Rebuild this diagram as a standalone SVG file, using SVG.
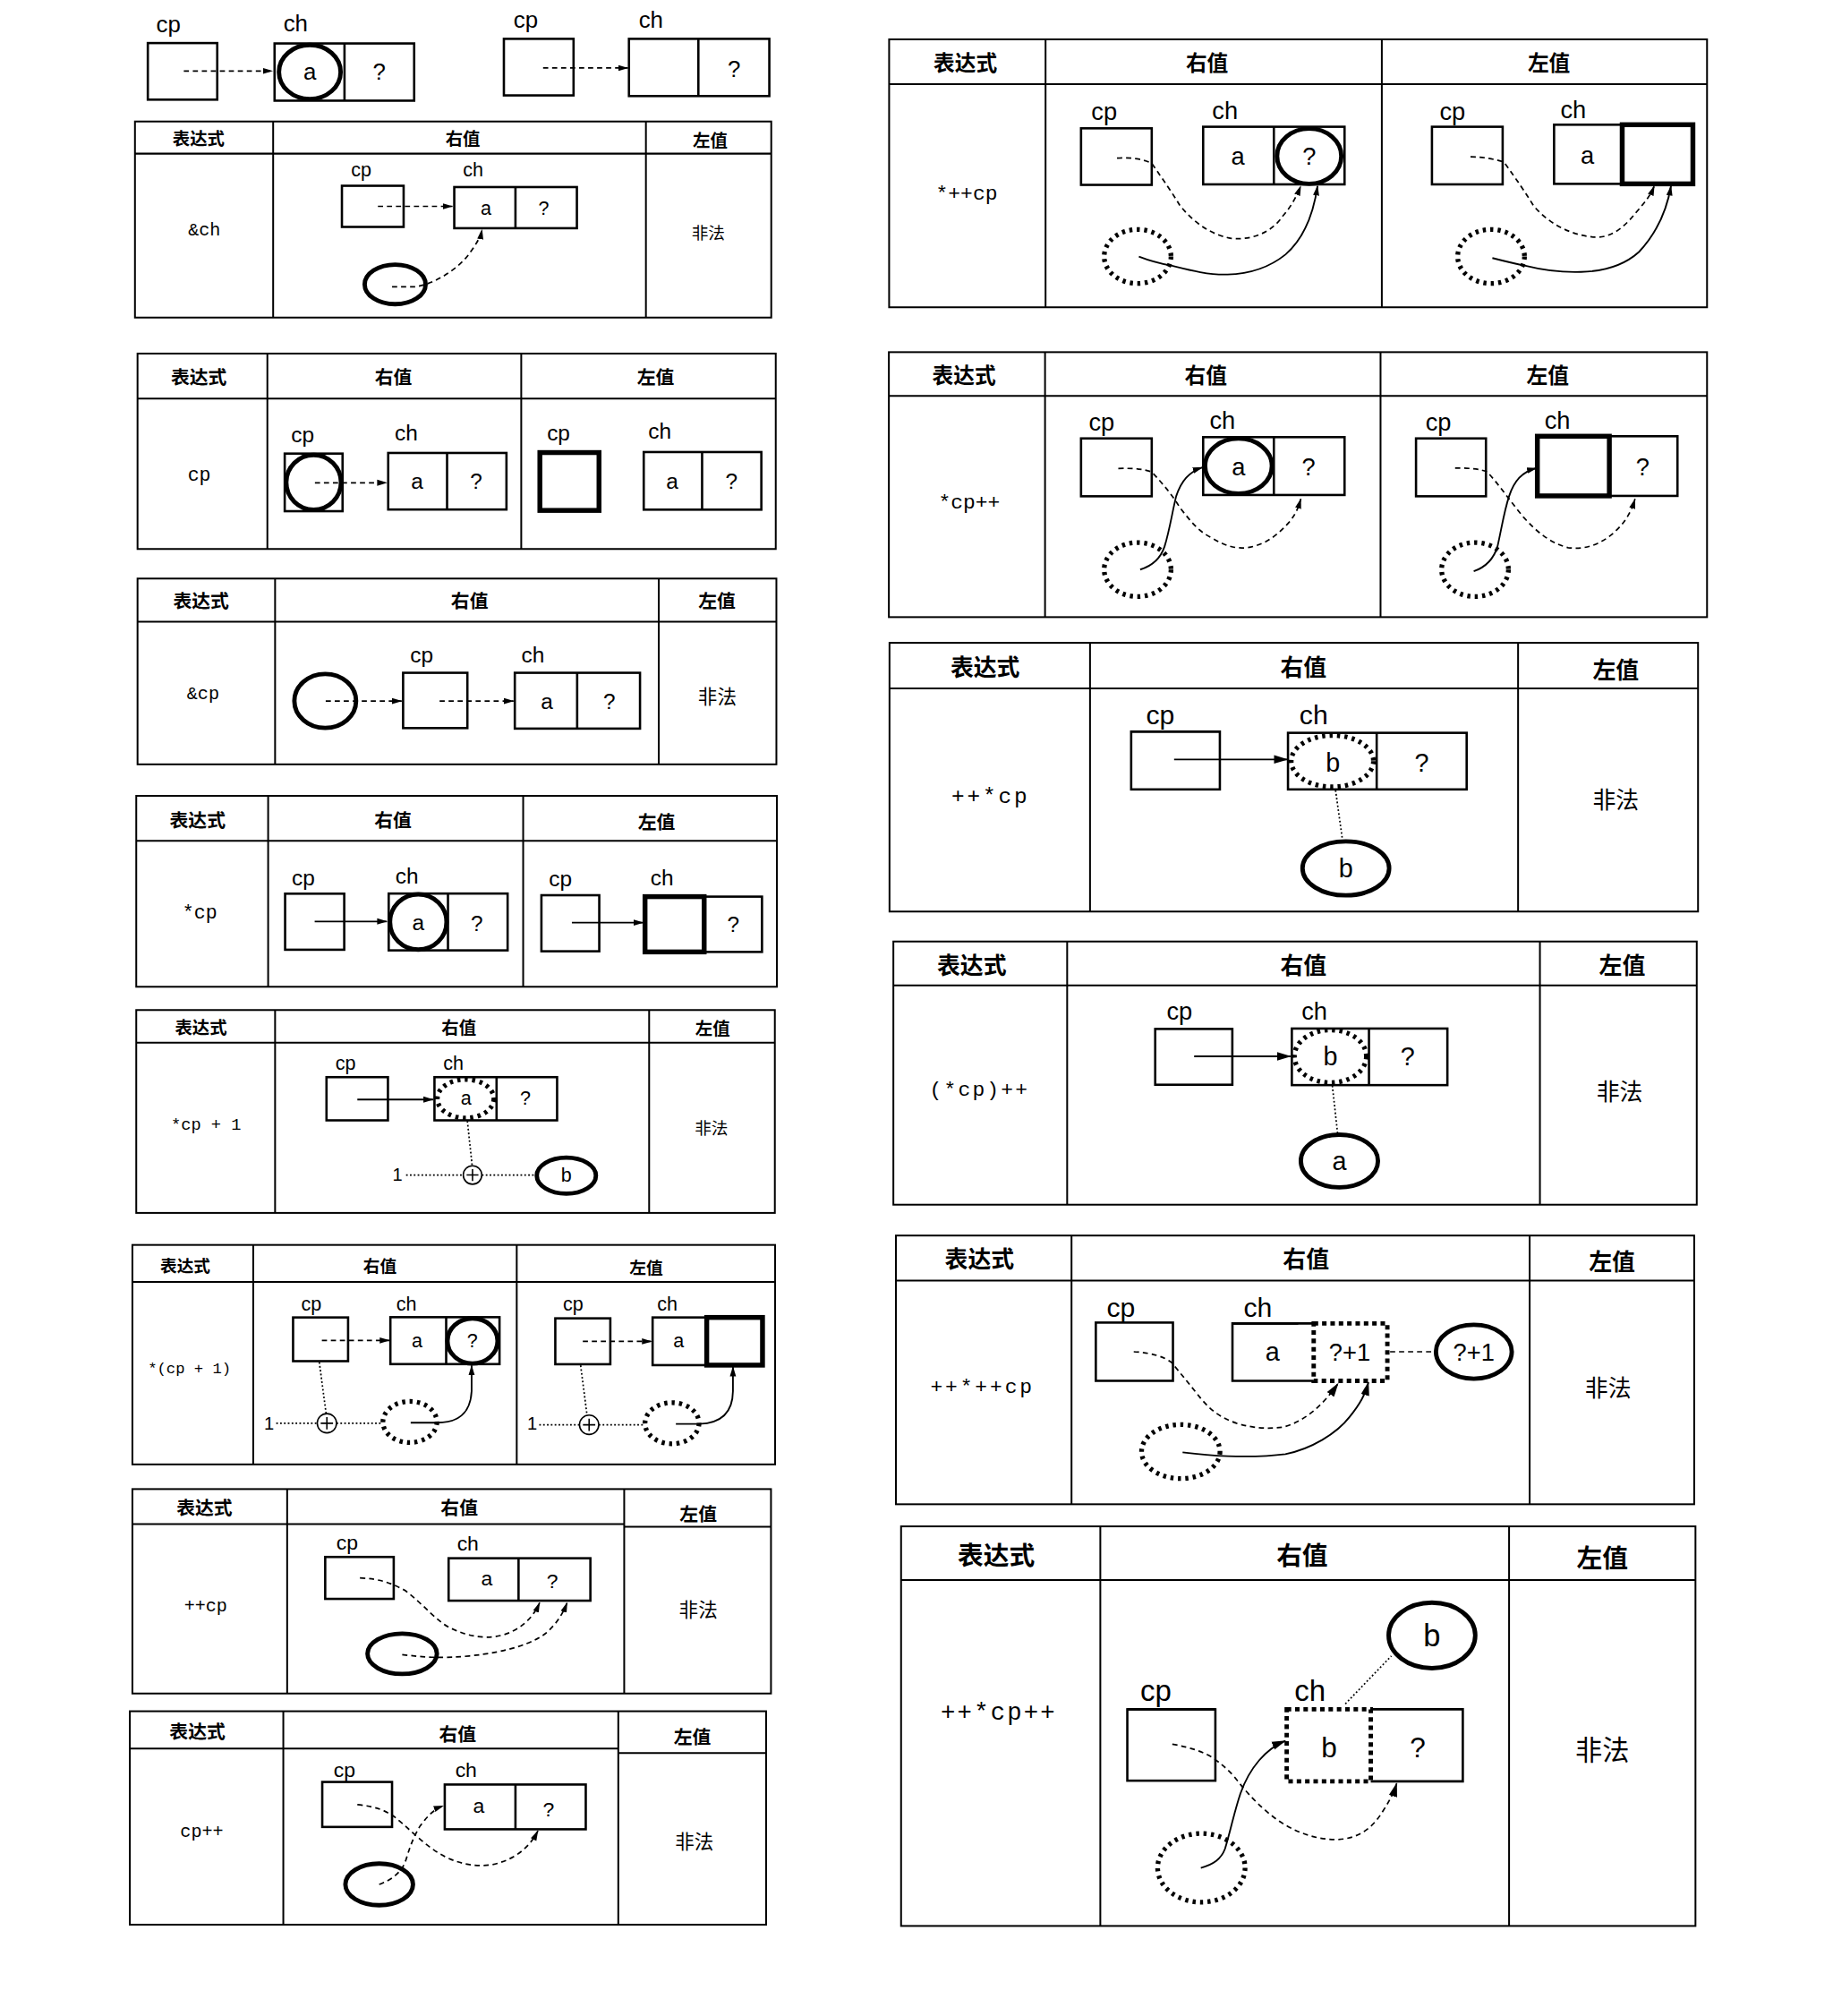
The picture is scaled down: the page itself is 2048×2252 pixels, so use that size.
<svg xmlns="http://www.w3.org/2000/svg" width="2048" height="2252" viewBox="0 0 2048 2252">
<defs>
<marker id="ah" viewBox="0 0 10 10" refX="9.5" refY="5" markerWidth="8" markerHeight="8" markerUnits="userSpaceOnUse" orient="auto"><path d="M0,2 L10,5 L0,8 Z" fill="#000"/></marker>
<marker id="ahl" viewBox="0 0 10 10" refX="9.5" refY="5" markerWidth="11" markerHeight="11" markerUnits="userSpaceOnUse" orient="auto"><path d="M0,2 L10,5 L0,8 Z" fill="#000"/></marker>
<style>
.tb{fill:none;stroke:#000;stroke-width:1.4}
.bx{fill:#fff;stroke:#000;stroke-width:1.8}
.sp{stroke:#000;stroke-width:1.8}
.bxb{fill:none;stroke:#000;stroke-width:3.8}
.bc{fill:none;stroke:#000;stroke-width:3.4}
.dc{fill:none;stroke:#000;stroke-width:3.7;stroke-dasharray:2.4 3.4}
.dr{fill:none;stroke:#000;stroke-width:3.4;stroke-dasharray:3.5 3}
.ds{fill:none;stroke:#000;stroke-width:1.2;stroke-dasharray:4 3}
.dd{fill:none;stroke:#000;stroke-width:1.2;stroke-dasharray:1.3 1.7}
.sl{fill:none;stroke:#000;stroke-width:1.3}
.th{fill:#fff;stroke:#000;stroke-width:1.1}
.ar{marker-end:url(#ah)}
.arl{marker-end:url(#ahl)}
text{fill:#000;dominant-baseline:central;text-anchor:middle}
.h{font-family:"Noto Sans CJK SC","Noto Sans CJK JP",sans-serif;font-weight:bold}
.l{font-family:"Liberation Sans",Arial,sans-serif}
.e{font-family:"Liberation Mono","Courier New",monospace}
.f{font-family:"Noto Sans CJK SC","Noto Sans CJK JP",sans-serif}
</style>
</defs>
<rect width="2048" height="2252" fill="#fff"/>
<g transform="scale(1.43619)">

<!-- top row -->
<g id="top-a">
<text class="l" x="131" y="19" font-size="18">cp</text>
<text class="l" x="230" y="18" font-size="18">ch</text>
<rect class="bx" x="115" y="33.5" width="54" height="44"/>
<rect class="bx" x="213.6" y="33.8" width="108.6" height="44.5"/>
<line class="sp" x1="268" y1="33.8" x2="268" y2="78.3"/>
<ellipse class="bc" cx="241" cy="56" rx="24" ry="21"/>
<text class="l" x="241" y="56" font-size="18">a</text>
<text class="l" x="295" y="56" font-size="18">?</text>
</g>
<g id="top-b">
<text class="l" x="409" y="15" font-size="18">cp</text>
<text class="l" x="506.4" y="15" font-size="18">ch</text>
<rect class="bx" x="392" y="30.2" width="54.2" height="44" stroke-width="2.2"/>
<rect class="bx" x="489.3" y="30.2" width="109.2" height="44.5" stroke-width="2.2"/>
<line class="sp" x1="543.3" y1="30.2" x2="543.3" y2="74.7"/>
<text class="l" x="571" y="53.4" font-size="18">?</text>
</g>

<!-- &ch -->
<g id="t-addr-ch">
<rect class="tb" x="105" y="94.5" width="495" height="152.5"/>
<line class="tb" x1="105" y1="119.5" x2="600" y2="119.5"/>
<line class="tb" x1="212.5" y1="94.5" x2="212.5" y2="247"/>
<line class="tb" x1="502.5" y1="94.5" x2="502.5" y2="247"/>
<text class="h" x="154.5" y="107" font-size="13.5">表达式</text>
<text class="h" x="360" y="107" font-size="13.5">右值</text>
<text class="h" x="552.5" y="108.5" font-size="13.5">左值</text>
<text class="e" x="159" y="179" font-size="14">&amp;ch</text>
<text class="f" x="551" y="180" font-size="13">非法</text>
<text class="l" x="281" y="132.5" font-size="15">cp</text>
<text class="l" x="368" y="132.5" font-size="15">ch</text>
<rect class="bx" x="266" y="144.5" width="48" height="32"/>
<rect class="bx" x="353.4" y="145.5" width="95.4" height="32"/>
<line class="sp" x1="401" y1="145.5" x2="401" y2="177.5"/>
<text class="l" x="378" y="162" font-size="15">a</text>
<text class="l" x="423" y="162" font-size="15">?</text>
<ellipse class="bc" cx="307.4" cy="221.2" rx="23.7" ry="15.4"/>
</g>

<!-- cp -->
<g id="t-cp">
<rect class="tb" x="107" y="275" width="496.5" height="152"/>
<line class="tb" x1="107" y1="310" x2="603.5" y2="310"/>
<line class="tb" x1="208" y1="275" x2="208" y2="427"/>
<line class="tb" x1="405.5" y1="275" x2="405.5" y2="427"/>
<text class="h" x="154.7" y="292.5" font-size="14.5">表达式</text>
<text class="h" x="306" y="292.5" font-size="14.5">右值</text>
<text class="h" x="510" y="292.5" font-size="14.5">左值</text>
<text class="e" x="155" y="370" font-size="15">cp</text>
<text class="l" x="235.5" y="338" font-size="17">cp</text>
<text class="l" x="316" y="336.5" font-size="17">ch</text>
<rect class="bx" x="221.5" y="352.8" width="45" height="44.8" stroke-width="2.4"/>
<circle class="bc" cx="244" cy="375.2" r="21.3"/>
<rect class="bx" x="302" y="352.3" width="92" height="44"/>
<line class="sp" x1="347.8" y1="352.3" x2="347.8" y2="396.3"/>
<text class="l" x="324.5" y="374.5" font-size="17">a</text>
<text class="l" x="370.5" y="374.5" font-size="17">?</text>
<text class="l" x="434.5" y="337" font-size="17">cp</text>
<text class="l" x="513.3" y="335.5" font-size="17">ch</text>
<rect class="bxb" x="420" y="352" width="46" height="45"/>
<rect class="bx" x="500.8" y="351.6" width="91.5" height="44.8"/>
<line class="sp" x1="546.2" y1="351.6" x2="546.2" y2="396.4"/>
<text class="l" x="523" y="374" font-size="17">a</text>
<text class="l" x="569" y="374" font-size="17">?</text>
</g>

<!-- &cp -->
<g id="t-addr-cp">
<rect class="tb" x="107" y="450" width="497" height="144.5"/>
<line class="tb" x1="107" y1="483.5" x2="604" y2="483.5"/>
<line class="tb" x1="214" y1="450" x2="214" y2="594.5"/>
<line class="tb" x1="512.5" y1="450" x2="512.5" y2="594.5"/>
<text class="h" x="156.4" y="466.6" font-size="14.5">表达式</text>
<text class="h" x="365.3" y="466.6" font-size="14.5">右值</text>
<text class="h" x="557.7" y="466.6" font-size="14.5">左值</text>
<text class="e" x="158" y="540" font-size="14">&amp;cp</text>
<text class="f" x="558" y="541" font-size="15">非法</text>
<ellipse class="bc" cx="253" cy="545.2" rx="24" ry="21"/>
<text class="l" x="328" y="509.5" font-size="17">cp</text>
<text class="l" x="414.6" y="509.5" font-size="17">ch</text>
<rect class="bx" x="313.6" y="523.3" width="50" height="43"/>
<rect class="bx" x="400.5" y="523.3" width="97.4" height="43.4" stroke-width="2.2"/>
<line class="sp" x1="449" y1="523.3" x2="449" y2="566.7"/>
<text class="l" x="425.5" y="545.3" font-size="17">a</text>
<text class="l" x="474" y="545.3" font-size="17">?</text>
</g>

<!-- *cp -->
<g id="t-deref-cp">
<rect class="tb" x="106" y="619" width="498.4" height="148.5"/>
<line class="tb" x1="106" y1="654" x2="604.4" y2="654"/>
<line class="tb" x1="208.6" y1="619" x2="208.6" y2="767.5"/>
<line class="tb" x1="407" y1="619" x2="407" y2="767.5"/>
<text class="h" x="153.7" y="637" font-size="14.5">表达式</text>
<text class="h" x="305.7" y="637" font-size="14.5">右值</text>
<text class="h" x="510.7" y="638.5" font-size="14.5">左值</text>
<text class="e" x="155.4" y="710" font-size="15">*cp</text>
<text class="l" x="236" y="682.4" font-size="17">cp</text>
<text class="l" x="316.6" y="681.2" font-size="17">ch</text>
<rect class="bx" x="221.8" y="695.1" width="46" height="43.6"/>
<rect class="bx" x="302.4" y="695" width="92.5" height="44.2"/>
<line class="sp" x1="348.5" y1="695" x2="348.5" y2="739.2"/>
<ellipse class="bc" cx="325.4" cy="717.1" rx="22" ry="21.5"/>
<text class="l" x="325.4" y="717.3" font-size="17">a</text>
<text class="l" x="371" y="718" font-size="17">?</text>
<text class="l" x="436" y="683.5" font-size="17">cp</text>
<text class="l" x="515" y="682.4" font-size="17">ch</text>
<rect class="bx" x="421.2" y="696.3" width="45" height="43.6"/>
<rect class="bx" x="501.8" y="697.4" width="91" height="43"/>
<rect class="bxb" x="501.8" y="697.4" width="46" height="43"/>
<text class="l" x="570.5" y="719" font-size="17">?</text>
</g>

<!-- *cp + 1 -->
<g id="t-deref-cp-plus-1">
<rect class="tb" x="106" y="785.6" width="496.8" height="157.8"/>
<line class="tb" x1="106" y1="811" x2="602.8" y2="811"/>
<line class="tb" x1="214" y1="785.6" x2="214" y2="943.4"/>
<line class="tb" x1="505" y1="785.6" x2="505" y2="943.4"/>
<text class="h" x="156.3" y="798.7" font-size="13.5">表达式</text>
<text class="h" x="357" y="798.7" font-size="13.5">右值</text>
<text class="h" x="554.4" y="799.5" font-size="13.5">左值</text>
<text class="e" x="160.3" y="875" font-size="13" xml:space="preserve">*cp + 1</text>
<text class="f" x="553.4" y="876" font-size="13">非法</text>
<text class="l" x="268.9" y="827.4" font-size="15">cp</text>
<text class="l" x="352.8" y="827.4" font-size="15">ch</text>
<rect class="bx" x="254" y="837.8" width="47.8" height="33.6"/>
<rect class="bx" x="338" y="837.8" width="95.4" height="33.6"/>
<line class="sp" x1="386.3" y1="837.8" x2="386.3" y2="871.4"/>
<ellipse class="dc" cx="362.2" cy="854.6" rx="22" ry="15"/>
<text class="l" x="362.6" y="854.5" font-size="15">a</text>
<text class="l" x="408.7" y="854.5" font-size="15">?</text>
<text class="l" x="309.3" y="913.2" font-size="14">1</text>
<circle class="th" cx="367.6" cy="913.9" r="7.2"/>
<path class="th" d="M363,913.9 H372.2 M367.6,909.3 V918.5"/>
<ellipse class="bc" cx="440.6" cy="914.4" rx="23" ry="14"/>
<text class="l" x="440.6" y="914.4" font-size="15">b</text>
</g>

<!-- *(cp + 1) -->
<g id="t-deref-paren">
<rect class="tb" x="103" y="968.3" width="500" height="170.7"/>
<line class="tb" x1="103" y1="997" x2="603" y2="997"/>
<line class="tb" x1="197" y1="968.3" x2="197" y2="1139"/>
<line class="tb" x1="402" y1="968.3" x2="402" y2="1139"/>
<text class="h" x="144.1" y="983.8" font-size="13">表达式</text>
<text class="h" x="295.5" y="983.8" font-size="13">右值</text>
<text class="h" x="502.7" y="985" font-size="13">左值</text>
<text class="e" x="147.4" y="1065" font-size="12" xml:space="preserve">*(cp + 1)</text>
<text class="l" x="242.2" y="1014.3" font-size="15">cp</text>
<text class="l" x="316.2" y="1014.3" font-size="15">ch</text>
<rect class="bx" x="228" y="1024.7" width="42.8" height="34"/>
<rect class="bx" x="303.7" y="1024.5" width="84.9" height="36.5" stroke-width="2.2"/>
<line class="sp" x1="347.1" y1="1024.5" x2="347.1" y2="1061"/>
<ellipse class="bc" cx="367.6" cy="1043" rx="19.5" ry="17.5"/>
<text class="l" x="324.4" y="1043.3" font-size="15">a</text>
<text class="l" x="367.4" y="1043.3" font-size="15">?</text>
<text class="l" x="209.3" y="1107" font-size="14">1</text>
<circle class="th" cx="254.3" cy="1107" r="7.5"/>
<path class="th" d="M249.5,1107 H259.1 M254.3,1102.2 V1111.8"/>
<ellipse class="dc" cx="318.9" cy="1106" rx="21" ry="16"/>
<text class="l" x="445.8" y="1014.7" font-size="15">cp</text>
<text class="l" x="519.2" y="1014.7" font-size="15">ch</text>
<rect class="bx" x="432" y="1025.4" width="42.8" height="35.7"/>
<rect class="bx" x="507.7" y="1024.7" width="85.5" height="37.1"/>
<rect class="bxb" x="549.8" y="1024.7" width="43.4" height="37.1"/>
<text class="l" x="528" y="1043.3" font-size="15">a</text>
<text class="l" x="414" y="1107" font-size="14">1</text>
<circle class="th" cx="458.3" cy="1108.2" r="7.5"/>
<path class="th" d="M453.5,1108.2 H463.1 M458.3,1103.4 V1113"/>
<ellipse class="dc" cx="522.8" cy="1107" rx="21" ry="16"/>
</g>

<!-- ++cp -->
<g id="t-preinc-cp">
<rect class="tb" x="103" y="1158.2" width="496.8" height="159"/>
<path class="tb" d="M103,1185.5 H485.6 M485.6,1187.5 H599.8"/>
<line class="tb" x1="223.4" y1="1158.2" x2="223.4" y2="1317.2"/>
<line class="tb" x1="485.6" y1="1158.2" x2="485.6" y2="1317.2"/>
<text class="h" x="159" y="1172" font-size="14.5">表达式</text>
<text class="h" x="357.3" y="1172" font-size="14.5">右值</text>
<text class="h" x="543.2" y="1177" font-size="14.5">左值</text>
<text class="e" x="160" y="1249.8" font-size="14">++cp</text>
<text class="f" x="543.2" y="1251" font-size="15">非法</text>
<text class="l" x="270.1" y="1200" font-size="16">cp</text>
<text class="l" x="364" y="1200.4" font-size="16">ch</text>
<rect class="bx" x="253" y="1211" width="53.3" height="32.6"/>
<rect class="bx" x="349" y="1212" width="110.3" height="33"/>
<line class="sp" x1="403.4" y1="1212" x2="403.4" y2="1245"/>
<text class="l" x="378.7" y="1227.8" font-size="16">a</text>
<text class="l" x="429.7" y="1229.5" font-size="16">?</text>
<ellipse class="bc" cx="312.9" cy="1286.3" rx="27" ry="15.7"/>
</g>

<!-- cp++ -->
<g id="t-postinc-cp">
<rect class="tb" x="101" y="1331" width="495" height="166"/>
<path class="tb" d="M101,1360 H481 M481,1363.5 H596"/>
<line class="tb" x1="220.4" y1="1331" x2="220.4" y2="1497"/>
<line class="tb" x1="481" y1="1331" x2="481" y2="1497"/>
<text class="h" x="153.6" y="1345.7" font-size="14.5">表达式</text>
<text class="h" x="356" y="1348" font-size="14.5">右值</text>
<text class="h" x="538.6" y="1350.4" font-size="14.5">左值</text>
<text class="e" x="157" y="1425" font-size="14">cp++</text>
<text class="f" x="540.2" y="1431" font-size="15">非法</text>
<text class="l" x="268" y="1376.4" font-size="16">cp</text>
<text class="l" x="362.6" y="1376.8" font-size="16">ch</text>
<rect class="bx" x="250.7" y="1386" width="54.3" height="35"/>
<rect class="bx" x="346" y="1388" width="109.7" height="34.8"/>
<line class="sp" x1="401" y1="1388" x2="401" y2="1422.8"/>
<text class="l" x="372.4" y="1404.2" font-size="16">a</text>
<text class="l" x="426.7" y="1407" font-size="16">?</text>
<ellipse class="bc" cx="295" cy="1465.7" rx="26.3" ry="16.2"/>
</g>

<!-- *++cp -->
<g id="t-deref-preinc">
<rect class="tb" x="691.7" y="30.6" width="636.3" height="208.4"/>
<line class="tb" x1="691.7" y1="65.4" x2="1328" y2="65.4"/>
<line class="tb" x1="813.4" y1="30.6" x2="813.4" y2="239"/>
<line class="tb" x1="1075" y1="30.6" x2="1075" y2="239"/>
<text class="h" x="751" y="48" font-size="16.5">表达式</text>
<text class="h" x="939" y="48" font-size="16.5">右值</text>
<text class="h" x="1205" y="48" font-size="16.5">左值</text>
<text class="e" x="752" y="151" font-size="16">*++cp</text>
<text class="l" x="859" y="87" font-size="19">cp</text>
<text class="l" x="953" y="86" font-size="19">ch</text>
<rect class="bx" x="841" y="99.8" width="55" height="44"/>
<rect class="bx" x="936" y="98.6" width="110" height="44.8"/>
<line class="sp" x1="991" y1="98.6" x2="991" y2="143.4"/>
<ellipse class="bc" cx="1018.5" cy="121.5" rx="25" ry="21.5"/>
<text class="l" x="963" y="121.5" font-size="19">a</text>
<text class="l" x="1018.5" y="121.5" font-size="19">?</text>
<ellipse class="dc" cx="885" cy="199.5" rx="26" ry="21"/>
<text class="l" x="1130" y="87" font-size="19">cp</text>
<text class="l" x="1224" y="85" font-size="19">ch</text>
<rect class="bx" x="1114" y="98.6" width="55" height="44.8"/>
<rect class="bx" x="1209" y="97" width="108" height="46"/>
<rect class="bxb" x="1262" y="97" width="55" height="46"/>
<text class="l" x="1235" y="121" font-size="19">a</text>
<ellipse class="dc" cx="1160" cy="199.5" rx="26" ry="21"/>
</g>

<!-- *cp++ -->
<g id="t-deref-postinc">
<rect class="tb" x="691.5" y="273.9" width="636.5" height="206.1"/>
<line class="tb" x1="691.5" y1="308" x2="1328" y2="308"/>
<line class="tb" x1="813" y1="273.9" x2="813" y2="480"/>
<line class="tb" x1="1074" y1="273.9" x2="1074" y2="480"/>
<text class="h" x="750" y="291" font-size="16.5">表达式</text>
<text class="h" x="938" y="291" font-size="16.5">右值</text>
<text class="h" x="1204" y="291" font-size="16.5">左值</text>
<text class="e" x="754" y="391" font-size="16">*cp++</text>
<text class="l" x="857" y="328.4" font-size="19">cp</text>
<text class="l" x="951" y="327" font-size="19">ch</text>
<rect class="bx" x="841" y="341" width="55" height="45"/>
<rect class="bx" x="936" y="340" width="110" height="45"/>
<line class="sp" x1="991" y1="340" x2="991" y2="385"/>
<ellipse class="bc" cx="963.5" cy="362.5" rx="26" ry="21.5"/>
<text class="l" x="963.5" y="363" font-size="19">a</text>
<text class="l" x="1018" y="363" font-size="19">?</text>
<ellipse class="dc" cx="885" cy="443" rx="26" ry="21"/>
<text class="l" x="1119" y="328" font-size="19">cp</text>
<text class="l" x="1211.6" y="327" font-size="19">ch</text>
<rect class="bx" x="1101.6" y="341" width="54.4" height="45"/>
<rect class="bx" x="1196" y="339.3" width="109" height="46.4"/>
<rect class="bxb" x="1196" y="339.3" width="56" height="46.4"/>
<text class="l" x="1278" y="363" font-size="19">?</text>
<ellipse class="dc" cx="1147.5" cy="443" rx="26" ry="21"/>
</g>

<!-- ++*cp -->
<g id="t-preinc-deref">
<rect class="tb" x="692" y="500" width="629" height="209"/>
<line class="tb" x1="692" y1="535.5" x2="1321" y2="535.5"/>
<line class="tb" x1="848" y1="500" x2="848" y2="709"/>
<line class="tb" x1="1181" y1="500" x2="1181" y2="709"/>
<text class="h" x="766.4" y="518" font-size="18">表达式</text>
<text class="h" x="1014" y="518" font-size="18">右值</text>
<text class="h" x="1257" y="520" font-size="18">左值</text>
<text class="e" x="770.6" y="619.7" font-size="17" letter-spacing="2">++*cp</text>
<text class="f" x="1257" y="621" font-size="18">非法</text>
<text class="l" x="902.6" y="556" font-size="21">cp</text>
<text class="l" x="1022" y="556" font-size="21">ch</text>
<rect class="bx" x="880" y="569" width="69" height="45"/>
<line class="sp" x1="880" y1="569" x2="949" y2="569" stroke-width="3.5"/>
<rect class="bx" x="1002" y="570" width="139" height="44"/>
<line class="sp" x1="1071" y1="570" x2="1071" y2="614"/>
<ellipse class="dc" cx="1036.5" cy="592" rx="32" ry="20"/>
<text class="l" x="1037" y="593" font-size="20">b</text>
<text class="l" x="1106" y="593" font-size="20">?</text>
<ellipse class="bc" cx="1047" cy="675.4" rx="33.7" ry="21"/>
<text class="l" x="1047" y="675.4" font-size="20">b</text>
</g>

<!-- (*cp)++ -->
<g id="t-paren-postinc">
<rect class="tb" x="695" y="732.3" width="625" height="204.7"/>
<line class="tb" x1="695" y1="766.4" x2="1320" y2="766.4"/>
<line class="tb" x1="830.2" y1="732.3" x2="830.2" y2="937"/>
<line class="tb" x1="1198" y1="732.3" x2="1198" y2="937"/>
<text class="h" x="756" y="749.7" font-size="18">表达式</text>
<text class="h" x="1014" y="749.7" font-size="18">右值</text>
<text class="h" x="1262" y="749.7" font-size="18">左值</text>
<text class="e" x="762" y="848.3" font-size="16" letter-spacing="1.5">(*cp)++</text>
<text class="f" x="1260" y="848" font-size="18">非法</text>
<text class="l" x="917.6" y="786.8" font-size="19">cp</text>
<text class="l" x="1022.6" y="786.8" font-size="19">ch</text>
<rect class="bx" x="898.7" y="800.3" width="60" height="43.4"/>
<rect class="bx" x="1005" y="800" width="121" height="44"/>
<line class="sp" x1="1065" y1="800" x2="1065" y2="844"/>
<ellipse class="dc" cx="1035" cy="821.6" rx="28" ry="20.5"/>
<text class="l" x="1035" y="821.6" font-size="20">b</text>
<text class="l" x="1095" y="821.6" font-size="20">?</text>
<ellipse class="bc" cx="1042" cy="903" rx="30" ry="20.5"/>
<text class="l" x="1042" y="903" font-size="20">a</text>
</g>

<!-- ++*++cp -->
<g id="t-preinc-deref-preinc">
<rect class="tb" x="697" y="961" width="621" height="209"/>
<line class="tb" x1="697" y1="996" x2="1318" y2="996"/>
<line class="tb" x1="833.6" y1="961" x2="833.6" y2="1170"/>
<line class="tb" x1="1190" y1="961" x2="1190" y2="1170"/>
<text class="h" x="762" y="978" font-size="18">表达式</text>
<text class="h" x="1016" y="978" font-size="18">右值</text>
<text class="h" x="1254" y="980" font-size="18">左值</text>
<text class="e" x="764.3" y="1079" font-size="16" letter-spacing="2">++*++cp</text>
<text class="f" x="1251" y="1078" font-size="18">非法</text>
<text class="l" x="872" y="1016.6" font-size="21">cp</text>
<text class="l" x="978.5" y="1016.6" font-size="21">ch</text>
<rect class="bx" x="852.5" y="1028.7" width="60" height="45.3"/>
<path class="bx" d="M1022,1029.4 H958.8 V1074 H1022"/>
<line class="sp" x1="958.8" y1="1029.4" x2="1010" y2="1029.4" stroke-width="3.5"/>
<rect class="dr" x="1022" y="1029.4" width="57.3" height="44.6"/>
<text class="l" x="990" y="1051.4" font-size="20">a</text>
<text class="l" x="1050" y="1051.4" font-size="19">?+1</text>
<ellipse class="bc" cx="1146.6" cy="1051.4" rx="29.5" ry="21"/>
<text class="l" x="1146.6" y="1051.4" font-size="19">?+1</text>
<ellipse class="dc" cx="918.6" cy="1129" rx="30.5" ry="21"/>
</g>

<!-- ++*cp++ -->
<g id="t-preinc-deref-postinc">
<rect class="tb" x="701" y="1187.2" width="618" height="310.8"/>
<line class="tb" x1="701" y1="1229" x2="1319" y2="1229"/>
<line class="tb" x1="856" y1="1187.2" x2="856" y2="1498"/>
<line class="tb" x1="1174" y1="1187.2" x2="1174" y2="1498"/>
<text class="h" x="775" y="1208.5" font-size="20">表达式</text>
<text class="h" x="1013" y="1208.5" font-size="20">右值</text>
<text class="h" x="1246.5" y="1210.5" font-size="20">左值</text>
<text class="e" x="777" y="1332" font-size="19" letter-spacing="1.5">++*cp++</text>
<text class="f" x="1246.5" y="1360" font-size="21">非法</text>
<text class="l" x="899.2" y="1314.8" font-size="23">cp</text>
<text class="l" x="1019.2" y="1314.8" font-size="23">ch</text>
<rect class="bx" x="877" y="1329.5" width="68.5" height="55.5" stroke-width="2.2"/>
<line class="sp" x1="877" y1="1329.5" x2="945.5" y2="1329.5" stroke-width="3.5"/>
<path class="bx" d="M1066.4,1329.5 H1138 V1385.5 H1066.4" stroke-width="2.2"/>
<rect class="dr" x="1001" y="1329.5" width="65.4" height="56"/>
<text class="l" x="1034" y="1359" font-size="22">b</text>
<text class="l" x="1103" y="1359" font-size="22">?</text>
<ellipse class="bc" cx="1114" cy="1272" rx="33.7" ry="25.5"/>
<text class="l" x="1114" y="1272" font-size="24">b</text>
<ellipse class="dc" cx="934.6" cy="1452.8" rx="34" ry="26.7"/>
</g>

<!-- connectors -->
<g id="connectors">
<path class="ds ar" d="M143,55.2 L212,55.2"/>
<path class="ds ar" d="M422.5,52.9 L488.5,52.9"/>

<path class="ds ar" d="M294,160.5 L352,160.5"/>
<path class="ds ar" d="M305,223 L324,223 C340,220 358,208 366,196 C371,189 374,184 375,178.5"/>

<path class="ds ar" d="M245,375.5 L301,375.5"/>

<path class="ds ar" d="M253.4,545.3 L312.5,545.3"/>
<path class="ds ar" d="M342,545.3 L399.5,545.3"/>

<path class="sl ar" d="M244.8,716.7 L301,716.7"/>
<path class="sl ar" d="M444.9,717.6 L500.5,717.6"/>

<path class="sl ar" d="M278,855.2 L337,855.2"/>
<path class="dd" d="M363.6,872 L367.3,906.5"/>
<path class="dd" d="M315.9,913.9 L360.3,913.9"/>
<path class="dd" d="M374.9,913.9 L417,913.9"/>

<path class="ds ar" d="M250.4,1042.6 L303,1042.6"/>
<path class="dd" d="M248.4,1059.5 L253.7,1099.5"/>
<path class="dd" d="M214.9,1107 L246.8,1107"/>
<path class="dd" d="M261.8,1107 L297.8,1107"/>
<path class="sl ar" d="M319.5,1106.6 L340,1106.6 C356,1106.5 366,1100 366.9,1082 L366.9,1062"/>
<path class="ds ar" d="M453.4,1043.3 L507,1043.3"/>
<path class="dd" d="M451.7,1062 L456.7,1100.7"/>
<path class="dd" d="M419.5,1108.2 L450.8,1108.2"/>
<path class="dd" d="M465.8,1108.2 L501.7,1108.2"/>
<path class="sl ar" d="M525.8,1107.5 L544,1107.5 C560,1107 570,1100 570.2,1082 L570.2,1063"/>

<path class="ds ar" d="M280,1227.3 C295,1228 304,1231 315,1237 C330,1248 340,1262 352,1267 C365,1273 378,1275 390,1272 C405,1268 415,1258 419.8,1246.5"/>
<path class="ds ar" d="M312.9,1287 C330,1289 345,1290 365,1288 C395,1285 415,1278 425,1270 C433,1263 438,1255 441.2,1246.5"/>

<path class="ds ar" d="M278,1403.7 C292,1405 300,1408 308,1414 C318,1422 332,1437 346,1444 C358,1450 370,1452 382,1450.5 C400,1447 412,1437 418.5,1424"/>
<path class="ds ar" d="M295,1465.7 C305,1462 313,1456 316,1446 C319,1436 322,1428 327,1420 C333,1412 338,1407 345,1404.5"/>

<path class="ds ar" d="M869,123 C880,122 890,124 896,127 C905,140 912,150 918,160 C928,172 940,182 958,185.5 C975,187 990,180 998,168 C1005,160 1009,152 1012,144.5"/>
<path class="sl ar" d="M886,199.5 C895,203 903,205 911,206.5 C925,210 940,214 955,213.5 C975,213 990,206 1000,198 C1015,185 1022,165 1025,144.5"/>
<path class="ds ar" d="M1144,122 C1155,122 1163,124 1170,126 C1180,140 1187,150 1193,160 C1203,172 1220,183 1241,184.5 C1255,185 1265,175 1273,165 C1280,157 1284,152 1287,144.5"/>
<path class="sl ar" d="M1161,200.7 C1170,203 1178,205 1186,206.5 C1200,210 1215,212 1230,211.5 C1250,211 1265,205 1275,196 C1290,180 1297,162 1300,144.5"/>

<path class="ds ar" d="M870,364.4 C882,364 890,365 896,367 C906,378 912,385 918,395 C926,405 932,413 942,418 C952,424 960,427 970,426 C985,424 995,415 1003,406 C1008,400 1010,395 1012,388"/>
<path class="sl ar" d="M887,443 C897,440 903,434 906,425 C910,412 912,398 915,386 C919,374 925,367 935.5,363.5"/>
<path class="ds ar" d="M1132,364 C1145,364 1152,365 1157,367 C1167,378 1175,390 1185,402 C1195,413 1205,422 1220,426 C1235,428 1248,422 1258,412 C1265,405 1269,398 1272,388"/>
<path class="sl ar" d="M1146.5,444.4 C1156,441 1162,435 1165,425 C1168,412 1170,398 1174,386 C1178,374 1184,367 1195.5,364"/>

<path class="sl arl" d="M913.4,590.7 L1001.6,590.7"/>
<path class="dd" d="M1039,614.6 L1044.4,653.4"/>

<path class="sl arl" d="M929,821.6 L1004,821.6"/>
<path class="dd" d="M1036.5,844.4 L1040.7,882.5"/>

<path class="ds" d="M1081.4,1051.4 L1116,1051.4"/>
<path class="ds arl" d="M882,1051.4 C895,1052 905,1055 911.3,1059.6 C920,1070 928,1080 934.4,1088 C942,1097 950,1103 962,1107 C975,1111 987,1111.5 998,1110 C1015,1106 1030,1092 1041,1076"/>
<path class="sl arl" d="M920,1129.6 C932,1131 942,1132 955,1132.6 C970,1133 985,1133 1000,1131 C1020,1127 1040,1115 1050,1102 C1058,1092 1062,1085 1064.6,1075"/>

<path class="dd" d="M1046.6,1325.3 L1082.4,1288"/>
<path class="ds arl" d="M912,1356.6 C925,1359 935,1362 943.4,1367 C950,1372 955,1376 960.3,1382 C968,1392 975,1400 985.5,1409 C1000,1422 1020,1431 1040.3,1430.8 C1058,1430 1068,1421 1075,1410 C1080,1402 1084,1396 1086.6,1387"/>
<path class="sl arl" d="M934.2,1452.9 C944,1450 950,1446 953,1438 C957,1425 960,1410 965,1395 C972,1375 985,1360 1000,1354"/>
</g>
</g>
</svg>
